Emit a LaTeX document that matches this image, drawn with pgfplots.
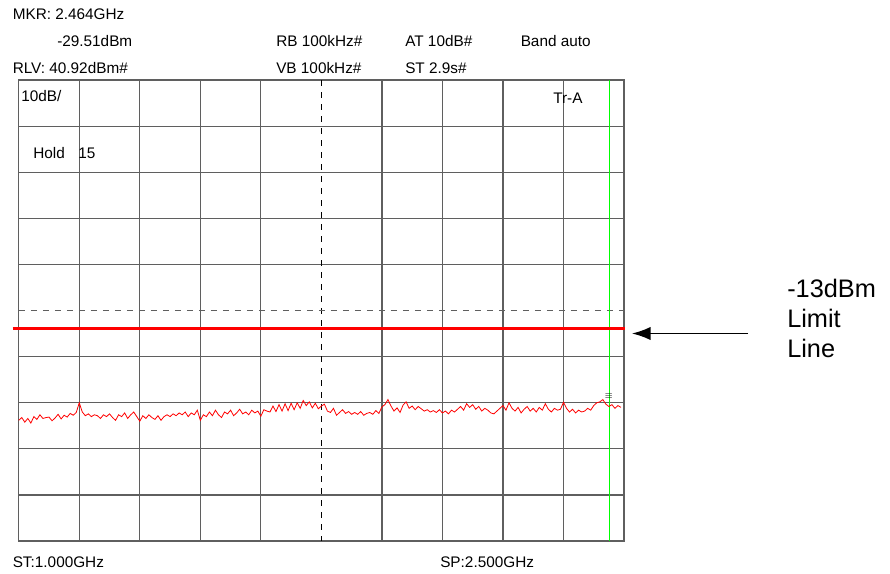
\documentclass[border=0pt]{standalone}
\usepackage{pgfplots}
\pgfplotsset{compat=1.18}
\usepackage{fontspec}
\setmainfont{Liberation Sans}
\usetikzlibrary{arrows.meta}
\definecolor{gridc}{RGB}{95,95,95}
\begin{document}
\begin{tikzpicture}[x=0.75pt,y=-0.75pt]
\path (0,0) rectangle (890,574);
\begin{axis}[
  at={(14.0625pt,-405.75pt)}, anchor=south west,
  scale only axis, width=453.94pt, height=345.75pt,
  xmin=1, xmax=2.5, ymin=-59.08, ymax=40.92,
  xtick={1.15,1.3,1.45,1.6,1.9,2.05,2.2,2.35},
  ytick={30.92,20.92,10.92,0.92,-19.08,-29.08,-39.08,-49.08},
  xticklabels={}, yticklabels={},
  major tick length=0pt,
  grid=major,
  grid style={gridc, line width=0.9pt},
  axis line style={gridc, line width=1pt},
  clip=false,
]
% center dashed vertical and dashed horizontal
\draw[black, line width=0.8pt, dash pattern=on 4.5pt off 4.5pt] (axis cs:1.75,40.92) -- (axis cs:1.75,-59.08);
\draw[gridc, line width=0.9pt, dash pattern=on 4.5pt off 4.5pt] (axis cs:1,-9.08) -- (axis cs:2.5,-9.08);
% marker line
\addplot[green, line width=1.3pt] coordinates {(2.464,40.92) (2.464,-59.08)};
% limit line
\addplot[red, line width=2.2pt] coordinates {(0.985,-13) (2.503,-13)};
% trace
\addplot[red, line width=0.6pt] coordinates {
(1.0000,-32.9) (1.0075,-32.3) (1.0150,-33.3) (1.0225,-32.5) (1.0300,-33.5)
(1.0375,-32.1) (1.0450,-32.7) (1.0525,-31.7) (1.0600,-32.5) (1.0675,-32.3)
(1.0750,-32.2) (1.0825,-33.0) (1.0900,-32.4) (1.0975,-31.6) (1.1050,-32.6)
(1.1125,-31.8) (1.1200,-32.2) (1.1275,-31.4) (1.1350,-31.8) (1.1425,-31.2)
(1.1500,-29.1) (1.1575,-31.1) (1.1650,-31.9) (1.1725,-31.5) (1.1800,-32.1)
(1.1875,-31.7) (1.1950,-31.9) (1.2025,-32.5) (1.2100,-31.7) (1.2175,-32.1)
(1.2250,-31.5) (1.2325,-32.3) (1.2400,-32.9) (1.2475,-31.7) (1.2550,-32.1)
(1.2625,-31.3) (1.2700,-32.5) (1.2775,-31.7) (1.2850,-31.1) (1.2925,-32.1)
(1.3000,-33.1) (1.3075,-31.9) (1.3150,-32.5) (1.3225,-31.7) (1.3300,-32.3)
(1.3375,-32.7) (1.3450,-31.9) (1.3525,-32.9) (1.3600,-32.1) (1.3675,-31.7)
(1.3750,-32.1) (1.3825,-31.5) (1.3900,-31.9) (1.3975,-31.3) (1.4050,-31.7)
(1.4125,-31.1) (1.4200,-32.1) (1.4275,-31.3) (1.4350,-31.7) (1.4425,-30.7)
(1.4500,-32.9) (1.4575,-31.7) (1.4650,-32.1) (1.4725,-31.1) (1.4800,-31.9)
(1.4875,-30.7) (1.4950,-31.7) (1.5025,-32.3) (1.5100,-31.1) (1.5175,-31.5)
(1.5250,-30.7) (1.5325,-31.9) (1.5400,-31.3) (1.5475,-30.5) (1.5550,-31.5)
(1.5625,-31.1) (1.5700,-31.7) (1.5775,-30.7) (1.5850,-31.3) (1.5925,-30.9)
(1.6000,-32.0) (1.6075,-30.6) (1.6150,-30.9) (1.6225,-31.1) (1.6300,-29.8)
(1.6375,-31.0) (1.6450,-29.5) (1.6525,-30.9) (1.6600,-29.3) (1.6675,-30.8)
(1.6750,-29.2) (1.6825,-30.6) (1.6900,-29.1) (1.6975,-30.3) (1.7050,-28.6)
(1.7125,-29.7) (1.7200,-28.9) (1.7275,-30.2) (1.7350,-29.2) (1.7425,-30.4)
(1.7500,-29.8) (1.7575,-29.4) (1.7650,-30.9) (1.7725,-31.2) (1.7800,-30.3)
(1.7875,-31.8) (1.7950,-31.2) (1.8025,-30.6) (1.8100,-31.4) (1.8175,-31.0)
(1.8250,-31.6) (1.8325,-31.2) (1.8400,-31.6) (1.8475,-31.0) (1.8550,-31.8)
(1.8625,-31.4) (1.8700,-31.2) (1.8775,-31.6) (1.8850,-30.8) (1.8925,-31.4)
(1.9000,-30.0) (1.9075,-29.5) (1.9150,-28.4) (1.9225,-29.8) (1.9300,-30.9)
(1.9375,-30.2) (1.9450,-31.2) (1.9525,-29.6) (1.9600,-28.9) (1.9675,-30.3)
(1.9750,-29.8) (1.9825,-30.6) (1.9900,-29.9) (1.9975,-30.4) (2.0050,-30.9)
(2.0125,-30.6) (2.0200,-31.1) (2.0275,-30.8) (2.0350,-31.2) (2.0425,-30.6)
(2.0500,-31.3) (2.0575,-30.9) (2.0650,-31.5) (2.0725,-30.7) (2.0800,-31.1)
(2.0875,-30.5) (2.0950,-29.9) (2.1025,-30.7) (2.1100,-29.3) (2.1175,-30.1)
(2.1250,-29.5) (2.1325,-30.5) (2.1400,-29.9) (2.1475,-30.9) (2.1550,-30.3)
(2.1625,-30.7) (2.1700,-31.3) (2.1775,-31.5) (2.1850,-30.9) (2.1925,-30.3)
(2.2000,-29.7) (2.2075,-30.7) (2.2150,-29.1) (2.2225,-30.3) (2.2300,-30.9)
(2.2375,-30.1) (2.2450,-31.3) (2.2525,-30.5) (2.2600,-29.9) (2.2675,-30.9)
(2.2750,-30.3) (2.2825,-31.1) (2.2900,-30.1) (2.2975,-30.7) (2.3050,-29.3)
(2.3125,-30.5) (2.3200,-31.1) (2.3275,-30.3) (2.3350,-30.7) (2.3425,-30.5)
(2.3500,-29.0) (2.3575,-30.3) (2.3650,-31.1) (2.3725,-30.5) (2.3800,-31.3)
(2.3875,-30.7) (2.3950,-31.1) (2.4025,-30.9) (2.4100,-30.3) (2.4175,-30.7)
(2.4250,-29.7) (2.4325,-29.1) (2.4400,-28.9) (2.4475,-28.4) (2.4550,-29.4)
(2.4625,-29.9) (2.4700,-29.5) (2.4775,-30.3) (2.4850,-29.7) (2.4925,-30.1)
};
% marker symbol
\addplot[black, mark=text, text mark={\fontsize{7}{7}\selectfont$\equiv$}, only marks] coordinates {(2.4625,-27.6)};
\end{axis}
\begin{scope}[every node/.style={anchor=base west, inner sep=0pt, font=\fontsize{11.5}{13}\selectfont}]
\node at (12.5,20) {MKR: 2.464GHz};
\node at (57,46.7) {-29.51dBm};
\node at (12.5,74) {RLV: 40.92dBm\#};
\node at (276,46.7) {RB 100kHz\#};
\node at (405,46.7) {AT 10dB\#};
\node at (520.5,46.7) {Band auto};
\node at (276,74) {VB 100kHz\#};
\node at (405,74) {ST 2.9s\#};
\node at (21,101.7) {10dB/};
\node at (33,158.3) {Hold};
\node at (78,158.3) {15};
\node at (553,103.3) {Tr-A};
\node at (12.5,567) {ST:1.000GHz};
\node at (440,567) {SP:2.500GHz};
\end{scope}
\begin{scope}[every node/.style={anchor=base west, inner sep=0pt, font=\fontsize{19}{22}\selectfont}]
\node at (787,297.3) {-13dBm};
\node at (787,327.3) {Limit};
\node at (787,357.3) {Line};
\end{scope}
\draw[line width=1.1pt, -{Latex[length=14pt,width=10pt]}] (748,333.5) -- (632,333.5);
\end{tikzpicture}
\end{document}
